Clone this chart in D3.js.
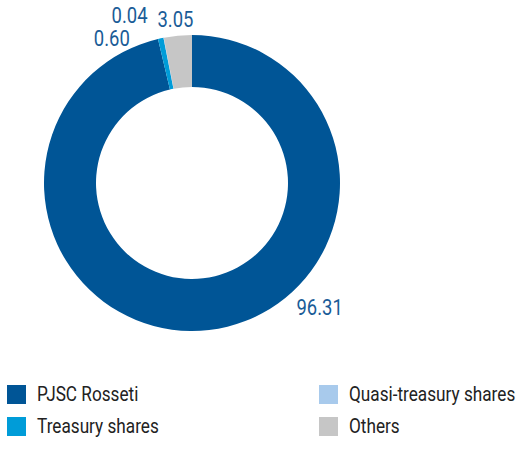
<!DOCTYPE html>
<html><head><meta charset="utf-8">
<script src="https://cdn.jsdelivr.net/npm/d3@7/dist/d3.min.js"></script>
<style>
html,body{margin:0;padding:0;background:#fff;}
svg{display:block;font-family:Roboto,"Noto Sans",sans-serif;}
</style></head><body>
<svg id="chart" width="518" height="452"></svg>
<script>
const categories = ["PJSC Rosseti","Treasury shares","Quasi-treasury shares","Others"];
const values = [96.31, 0.60, 0.04, 3.05];
const valueLabels = ["96.31","0.60","0.04","3.05"];
const colors = ["#005596","#009cd8","#a8caec","#c6c6c6"];
// label placement: angle (deg, clockwise from top) and radius from centre
const labelAngles = [134.2, -29.1, -20.4, -5.8];
const labelRadii = [178, 165, 179, 164];
const legendOrder = [0,1,2,3];

const svg = d3.select("#chart");
const cx = 192, cy = 183, R = 148, r = 96;
const g = svg.append("g").attr("transform",`translate(${cx},${cy})`);

const data = categories.map((c,i)=>({cat:c, value:values[i], color:colors[i], label:valueLabels[i], i}));
const pie = d3.pie().value(d=>d.value).sort(null).startAngle(0).endAngle(2*Math.PI);
const arc = d3.arc().innerRadius(r).outerRadius(R);
g.selectAll("path").data(pie(data)).join("path")
  .attr("d",arc).attr("fill",d=>d.data.color);

// value labels (horizontally condensed to mimic a narrow typeface)
const lbls = g.selectAll("g.lbl").data(data).join("g").attr("class","lbl")
  .attr("transform",d=>{
    const a = labelAngles[d.i]*Math.PI/180;
    return `translate(${labelRadii[d.i]*Math.sin(a)},${-labelRadii[d.i]*Math.cos(a)}) scale(0.84,1)`;
  });
lbls.append("text")
  .attr("text-anchor","middle").attr("dominant-baseline","central")
  .attr("font-size",22).attr("fill","#1a5c97")
  .text(d=>d.label);

const legend = svg.append("g");
const colX = [7, 319], rowY = [385, 417], sw = 19;
legendOrder.forEach((idx,k)=>{
  const col = Math.floor(k/2), row = k%2;
  const lg = legend.append("g").attr("transform",`translate(${colX[col]},${rowY[row]})`);
  lg.append("rect").attr("width",sw).attr("height",sw).attr("fill",colors[idx]);
  lg.append("g").attr("transform",`translate(30,${sw/2}) scale(0.86,1)`)
    .append("text").attr("dominant-baseline","central")
    .attr("font-size",20).attr("fill","#222").text(categories[idx]);
});
</script>
</body></html>
